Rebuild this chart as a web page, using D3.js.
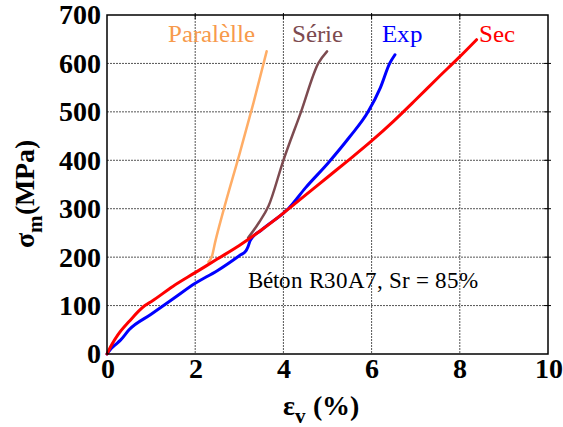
<!DOCTYPE html>
<html><head><meta charset="utf-8">
<script src="https://cdn.jsdelivr.net/npm/d3@7"></script>
<style>
@font-face{font-family:"ChartSerif";src:local("Liberation Serif"),local("LiberationSerif");font-weight:normal;}
@font-face{font-family:"ChartSerif";src:local("Liberation Serif Bold"),local("LiberationSerif-Bold");font-weight:bold;}
</style>
</head><body style="margin:0">
<svg id="c" width="563" height="427"></svg>
<script>
const xTicks = [0, 2, 4, 6, 8, 10];
const yTicks = [0, 100, 200, 300, 400, 500, 600, 700];

const secX = [0, 0.1, 0.25, 0.5, 0.86, 1, 1.5, 2, 2.5, 3, 3.5, 4, 4.5, 5, 5.5, 6, 6.5, 7, 7.5, 8, 8.38];
const secY = [0, 18, 40, 67, 100, 108, 140, 168, 196, 224, 256, 291, 328, 365, 402, 440, 481, 525, 570, 614, 649];

const expX = [0, 0.1, 0.2, 0.3, 0.5, 1, 1.5, 2, 2.5, 3, 3.15, 3.2, 3.25, 3.5, 4, 4.11, 4.5, 5.02, 5.5, 5.92, 6.2, 6.41, 6.53];
const expY = [0, 12, 20, 28, 50, 82, 114, 146, 172, 203, 213, 222, 235, 256, 291, 300, 343, 395, 448, 500, 550, 600, 618];

const serieX = [3.2, 3.45, 3.66, 4.0, 4.4, 4.79, 4.99];
const serieY = [240, 272, 305, 400, 500, 600, 625];

const paraX = [2.3, 2.38, 2.45, 2.64, 3.02, 3.32, 3.62];
const paraY = [190, 202, 230, 296, 418, 518, 625];

const curveLabels = ["Paralèlle", "Série", "Exp", "Sec"];
const note = "Béton R30A7, Sr = 85%";

const FONT = "ChartSerif, 'Liberation Serif', serif";
const svg = d3.select("#c");
const L = 107, R = 548, T = 15, B = 354;
const x = d3.scaleLinear().domain([0, 10]).range([L, R]);
const y = d3.scaleLinear().domain([0, 700]).range([B, T]);

svg.append("rect").attr("width", 563).attr("height", 427).attr("fill", "#fff");

// grid
const g = svg.append("g");
g.selectAll("line.gx").data(xTicks.slice(1, -1)).enter().append("line")
  .attr("x1", d => x(d)).attr("x2", d => x(d)).attr("y1", T).attr("y2", B)
  .attr("stroke", "#555").attr("stroke-width", 1).attr("stroke-dasharray", "2,1");
g.selectAll("line.gy").data(yTicks.slice(1, -1)).enter().append("line")
  .attr("y1", d => y(d)).attr("y2", d => y(d)).attr("x1", L).attr("x2", R)
  .attr("stroke", "#555").attr("stroke-width", 1).attr("stroke-dasharray", "2,1");

g.selectAll("line.tr").data(yTicks.slice(1, -1)).enter().append("line")
  .attr("y1", d => y(d)).attr("y2", d => y(d)).attr("x1", R - 4).attr("x2", R + 3)
  .attr("stroke", "#000").attr("stroke-width", 1);
g.selectAll("line.tt").data(xTicks.slice(1, -1)).enter().append("line")
  .attr("x1", d => x(d)).attr("x2", d => x(d)).attr("y1", T - 2).attr("y2", T + 4)
  .attr("stroke", "#000").attr("stroke-width", 1);

// curves
const line = d3.line().curve(d3.curveMonotoneX).x(d => x(d[0])).y(d => y(d[1]));
function draw(xs, ys, color, w) {
  svg.append("path").datum(xs.map((v, i) => [v, ys[i]]))
    .attr("d", line).attr("fill", "none").attr("stroke", color)
    .attr("stroke-width", w).attr("stroke-linejoin", "round").attr("stroke-linecap", "round");
}
draw(paraX, paraY, "#ffad66", 2.5);
draw(serieX, serieY, "#7d4b50", 2.5);
draw(expX, expY, "#0000ff", 3);
draw(secX, secY, "#ff0000", 3);

// frame
svg.append("rect").attr("x", L).attr("y", T).attr("width", R - L).attr("height", B - T)
  .attr("fill", "none").attr("stroke", "#000").attr("stroke-width", 1.5);

// axes
const ax = svg.append("g").attr("transform", `translate(0,${B})`)
  .call(d3.axisBottom(x).tickValues(xTicks).tickSize(0).tickPadding(4).tickFormat(d3.format("d")));
const ay = svg.append("g").attr("transform", `translate(${L},0)`)
  .call(d3.axisLeft(y).tickValues(yTicks).tickSize(0).tickPadding(6).tickFormat(d3.format("d")));
[ax, ay].forEach(a => {
  a.attr("font-family", null).attr("font-size", null);
  a.select(".domain").remove();
  a.selectAll("text").style("font-family", FONT)
    .style("font-weight", "bold").style("font-size", "28px").attr("fill", "#000");
});

// axis titles
const xt = svg.append("text").attr("x", 283).attr("y", 415)
  .style("font-family", FONT).style("font-weight", "bold").style("font-size", "28px");
xt.append("tspan").text("ε");
xt.append("tspan").style("font-size", "21px").attr("dy", 8).text("v");
xt.append("tspan").attr("dy", -8).text(" (%)");

const yt = svg.append("text").attr("transform", "translate(34,248) rotate(-90)")
  .style("font-family", FONT).style("font-weight", "bold").style("font-size", "28px");
yt.append("tspan").text("σ");
yt.append("tspan").style("font-size", "21px").attr("dy", 8).text("m");
yt.append("tspan").attr("dy", -8).text("(MPa)");

// curve labels
const lab = [
  {t: curveLabels[0], x: 168, c: "#f79a4c"},
  {t: curveLabels[1], x: 292, c: "#7d4b50"},
  {t: curveLabels[2], x: 382, c: "#0000ff"},
  {t: curveLabels[3], x: 479, c: "#ff0000"}
];
svg.selectAll("text.cl").data(lab).enter().append("text")
  .attr("x", d => d.x).attr("y", 42).text(d => d.t).attr("fill", d => d.c)
  .style("font-family", FONT).style("font-size", "25px");

svg.append("text").attr("x", 248).attr("y", 288).text(note)
  .style("font-family", FONT).style("font-size", "23px").attr("fill", "#000");
</script>
</body></html>
